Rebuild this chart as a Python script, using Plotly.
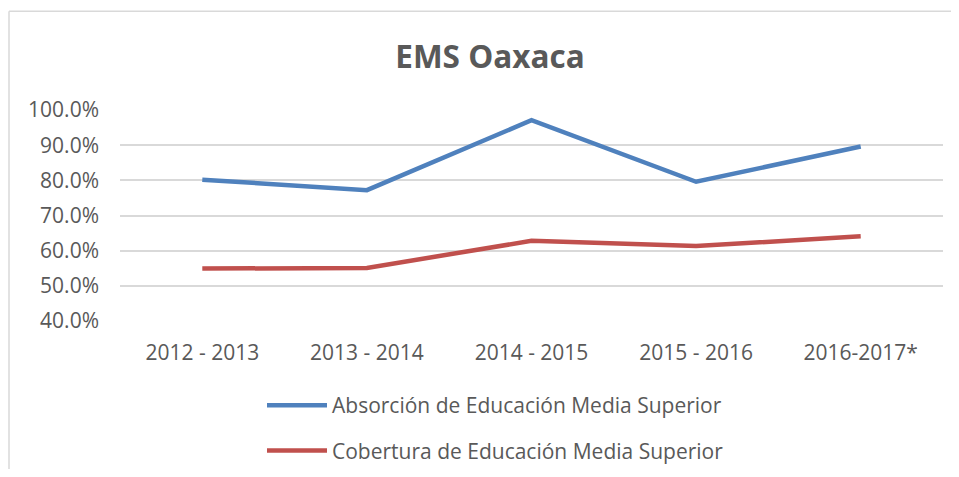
import plotly.graph_objects as go

categories = ["2012 - 2013", "2013 - 2014", "2014 - 2015", "2015 - 2016", "2016-2017*"]
absorcion = [80.2, 77.2, 97.1, 79.6, 89.6]
cobertura = [54.9, 55.1, 62.8, 61.3, 64.1]
series_names = ["Absorción de Educación Media Superior", "Cobertura de Educación Media Superior"]
y_ticks = [40, 50, 60, 70, 80, 90, 100]
y_tick_labels = [f"{v:.1f}%" for v in y_ticks]

FONT = "Open Sans"
GRAY = "#595959"

W, H = 943, 461          # page body adds an 8px margin on every side
L, R, T, B = 112, 8, 102, 147.5
PW, PH = W - L - R, H - T - B

fig = go.Figure()
fig.add_trace(go.Scatter(x=categories, y=absorcion, mode="lines", name=series_names[0],
                         legendgroup="a",
                         line=dict(color="#4f81bd", width=4.5)))
fig.add_trace(go.Scatter(x=categories, y=cobertura, mode="lines", name=series_names[1],
                         legendgroup="b",
                         line=dict(color="#c0504d", width=4.5)))

fig.update_layout(
    width=W, height=H,
    margin=dict(l=L, r=R, t=T, b=B, autoexpand=False),
    paper_bgcolor="white", plot_bgcolor="white",
    font=dict(family=FONT, size=21, color=GRAY),
    title=dict(text="<b>EMS Oaxaca</b>", x=482 / W, xanchor="center", y=1 - 49 / H, yanchor="middle",
               font=dict(family=FONT, size=31.5, color=GRAY)),
    xaxis=dict(range=[-0.5, 4.5], showgrid=False, showline=False, ticks="", zeroline=False,
               automargin=False, ticklabelstandoff=17, tickfont=dict(size=21, color=GRAY)),
    yaxis=dict(range=[40, 100], tickvals=y_ticks, ticktext=y_tick_labels,
               showgrid=True, gridcolor="#d9d9d9", gridwidth=1.5, zeroline=False,
               automargin=False, showline=False, ticks="", ticklabelstandoff=20,
               tickfont=dict(size=21, color=GRAY)),
    legend=dict(orientation="v", xref="container", x=254 / W, xanchor="left",
                yref="container", y=1 - 377 / H, yanchor="top",
                tracegroupgap=15, itemwidth=60, font=dict(size=21, color=GRAY),
                bgcolor="rgba(0,0,0,0)"),
    showlegend=True,
)
# chart border: top and left edges (right/bottom fall outside the picture)
bx0 = (1 - L) / PW
by1 = (PH + T - 3) / PH
fig.add_shape(type="line", xref="paper", yref="paper", x0=bx0, x1=(W + 20 - L) / PW, y0=by1, y1=by1,
              line=dict(color="#d9d9d9", width=1.5), layer="below")
fig.add_shape(type="line", xref="paper", yref="paper", x0=bx0, x1=bx0, y0=by1, y1=-(B + 20) / PH,
              line=dict(color="#d9d9d9", width=1.5), layer="below")

fig.write_html("out.html")
